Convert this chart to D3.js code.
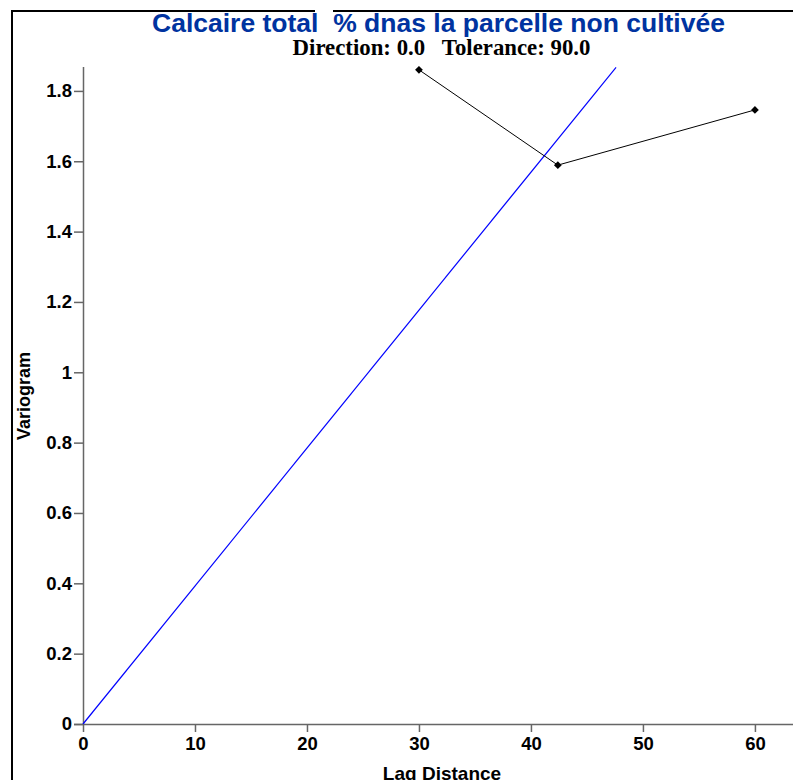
<!DOCTYPE html>
<html>
<head>
<meta charset="utf-8">
<script src="https://cdn.jsdelivr.net/npm/d3@7"></script>
<style>
  html, body { margin: 0; padding: 0; background: #fff; }
  svg { display: block; }
</style>
</head>
<body>
<svg id="chart" width="793" height="780"></svg>
<script>
// Experimental variogram (lag distance, semivariance)
const lags = [30, 42.4, 60];
const gammas = [1.86, 1.589, 1.746];
// Fitted linear model, drawn from the origin up to the top of the plot
const modelLags = [0, 47.6];
const modelGammas = [0, 1.867];
const xTicks = [0, 10, 20, 30, 40, 50, 60];
const yTicks = [0, 0.2, 0.4, 0.6, 0.8, 1, 1.2, 1.4, 1.6, 1.8];

const titleText = "Calcaire total  % dnas la parcelle non cultivée";
const subtitleText = "Direction: 0.0   Tolerance: 90.0";

const svg = d3.select("#chart");
const W = 793, H = 780;
const m = { left: 83, right: 0, top: 67, bottom: 56 };
const sans = "Arial, 'Liberation Sans', sans-serif";

const x = d3.scaleLinear().domain([0, 63.4]).range([m.left, W - m.right]);
const y = d3.scaleLinear().domain([0, 1.868]).range([H - m.bottom, m.top]);

// Outer frame (top edge interrupted near the title)
svg.append("path")
  .attr("d", `M12,${H} L12,11 L315,11 M333,11 L${W},11`)
  .attr("fill", "none").attr("stroke", "#000").attr("stroke-width", 2);

// Titles
svg.append("text")
  .attr("x", 438.5).attr("y", 32)
  .attr("text-anchor", "middle")
  .attr("font-family", sans)
  .attr("font-weight", "bold").attr("font-size", 26.5)
  .attr("fill", "#0033a0")
  .style("white-space", "pre")
  .text(titleText);

svg.append("text")
  .attr("x", 441.5).attr("y", 55)
  .attr("text-anchor", "middle")
  .attr("font-family", "'Times New Roman', 'Liberation Serif', serif")
  .attr("font-weight", "bold").attr("font-size", 22.8)
  .attr("fill", "#000")
  .style("white-space", "pre")
  .text(subtitleText);

// Axes
const xAxis = d3.axisBottom(x).tickValues(xTicks).tickSize(8).tickPadding(5)
  .tickFormat(d3.format("d"));
const yAxis = d3.axisLeft(y).tickValues(yTicks).tickSize(9).tickPadding(2)
  .tickFormat(d => d === 0 || d === 1 ? String(d) : d3.format(".1f")(d));

const gx = svg.append("g").attr("transform", `translate(0,${y(0)})`).call(xAxis);
const gy = svg.append("g").attr("transform", `translate(${x(0)},0)`).call(yAxis);

gx.select(".domain").attr("d", `M${x(0) - 9},0.5H${W}`);
gy.select(".domain").attr("d", `M0.5,${y.range()[1]}V${y(0)}`);

[gx, gy].forEach(g => {
  g.selectAll(".domain, .tick line").attr("stroke", "#666").attr("stroke-width", 1.5);
  g.selectAll(".tick text")
    .attr("font-family", sans)
    .attr("font-weight", "bold").attr("font-size", 18.5).attr("fill", "#000");
});

// Axis labels
svg.append("text")
  .attr("x", 442).attr("y", 780)
  .attr("text-anchor", "middle")
  .attr("font-family", sans)
  .attr("font-weight", "bold").attr("font-size", 19)
  .text("Lag Distance");

svg.append("text")
  .attr("transform", "translate(30,396) rotate(-90)")
  .attr("text-anchor", "middle")
  .attr("font-family", sans)
  .attr("font-weight", "bold").attr("font-size", 18)
  .text("Variogram");

// Model line
const modelPts = modelLags.map((d, i) => [d, modelGammas[i]]);
svg.append("path")
  .datum(modelPts)
  .attr("fill", "none").attr("stroke", "#0000ff").attr("stroke-width", 1.2)
  .attr("d", d3.line().x(d => x(d[0])).y(d => y(d[1])));

// Experimental points
const pts = lags.map((d, i) => [d, gammas[i]]);
svg.append("path")
  .datum(pts)
  .attr("fill", "none").attr("stroke", "#000").attr("stroke-width", 1)
  .attr("d", d3.line().x(d => x(d[0])).y(d => y(d[1])));

svg.selectAll(".pt").data(pts).enter().append("path")
  .attr("class", "pt")
  .attr("transform", d => `translate(${x(d[0])},${y(d[1])}) rotate(45)`)
  .attr("d", d3.symbol(d3.symbolSquare, 30))
  .attr("fill", "#000");
</script>
</body>
</html>
